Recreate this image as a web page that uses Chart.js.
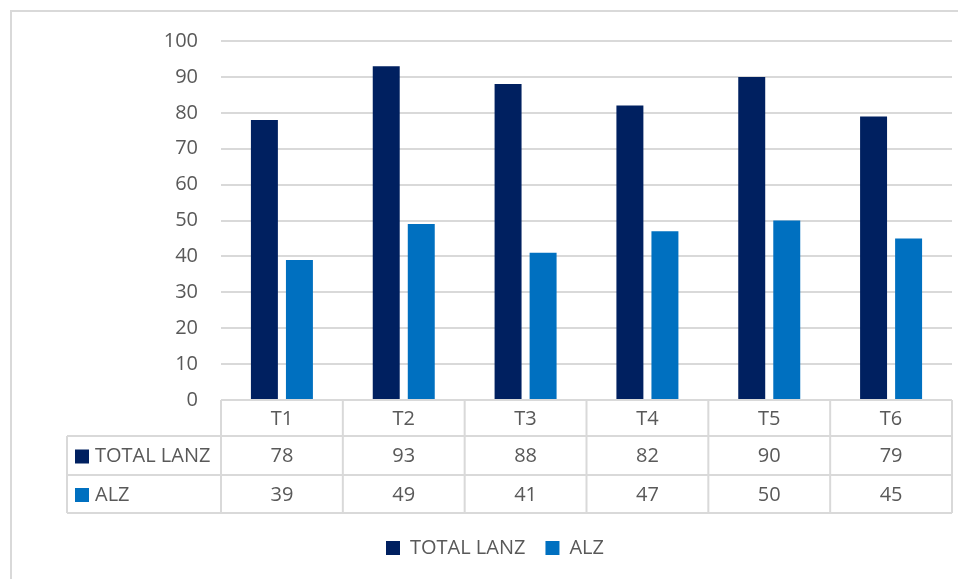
<!DOCTYPE html>
<html>
<head>
<meta charset="utf-8">
<script src="https://cdn.jsdelivr.net/npm/chart.js@4/dist/chart.umd.min.js"></script>
<style>
  html, body { margin: 0; padding: 0; background: #fff; }
  #wrap { width: 958px; height: 579px; }
</style>
</head>
<body>
<div id="wrap"><canvas id="barChart"></canvas></div>
<script>
const categories = ['T1', 'T2', 'T3', 'T4', 'T5', 'T6'];
const totalLanz = [78, 93, 88, 82, 90, 79];
const alz = [39, 49, 41, 47, 50, 45];
const yTicks = [0, 10, 20, 30, 40, 50, 60, 70, 80, 90, 100];

const textColor = '#595959';
const lineColor = '#D9D9D9';
const fontFamily = '"Open Sans", sans-serif';

// Outer frame of the chart object
const framePlugin = {
    id: 'frame',
    beforeDraw(chart) {
        const ctx = chart.ctx;
        ctx.save();
        ctx.strokeStyle = lineColor;
        ctx.lineWidth = 2;
        ctx.strokeRect(11, 11, chart.width + 20, chart.height + 20);
        ctx.restore();
    }
};

// Data table under the plot: header row of categories, one row per dataset
const dataTablePlugin = {
    id: 'dataTable',
    afterDraw(chart) {
        const ctx = chart.ctx;
        const x = chart.scales.x;
        const area = chart.chartArea;
        const top = area.bottom;
        const rowH = [36, 39, 38];
        const labelLeft = 67;
        const colW = (area.right - area.left) / categories.length;
        const y1 = top + rowH[0];
        const y2 = y1 + rowH[1];
        const y3 = y2 + rowH[2];

        ctx.save();
        ctx.strokeStyle = lineColor;
        ctx.lineWidth = 2;
        ctx.beginPath();
        // horizontal lines
        ctx.moveTo(area.left, top); ctx.lineTo(area.right, top);
        ctx.moveTo(labelLeft, y1); ctx.lineTo(area.right, y1);
        ctx.moveTo(labelLeft, y2); ctx.lineTo(area.right, y2);
        ctx.moveTo(labelLeft, y3); ctx.lineTo(area.right, y3);
        // vertical lines
        ctx.moveTo(labelLeft, y1); ctx.lineTo(labelLeft, y3);
        for (let i = 0; i <= categories.length; i++) {
            const px = area.left + i * colW;
            ctx.moveTo(px, top); ctx.lineTo(px, y3);
        }
        ctx.stroke();

        ctx.font = '20px ' + fontFamily;
        ctx.fillStyle = textColor;
        ctx.textAlign = 'center';
        ctx.textBaseline = 'middle';
        categories.forEach((c, i) => {
            const cx = x.getPixelForValue(i);
            ctx.fillText(c, cx, top + rowH[0] / 2 + 1);
        });
        chart.data.datasets.forEach((ds, d) => {
            const rowTop = d === 0 ? y1 : y2;
            const cy = rowTop + rowH[d + 1] / 2 + 1;
            ds.data.forEach((v, i) => {
                ctx.fillStyle = textColor;
                ctx.textAlign = 'center';
                ctx.fillText(String(v), x.getPixelForValue(i), cy);
            });
            ctx.fillStyle = ds.backgroundColor;
            ctx.fillRect(75, cy - 7, 14, 14);
            ctx.fillStyle = textColor;
            ctx.textAlign = 'left';
            ctx.fillText(ds.label, 95, cy);
        });
        ctx.restore();
    }
};

const ctxBar = document.getElementById('barChart').getContext('2d');
const barChart = new Chart(ctxBar, {
    type: 'bar',
    data: {
        labels: categories,
        datasets: [{
            label: 'TOTAL LANZ',
            backgroundColor: '#002060',
            data: totalLanz,
            categoryPercentage: 0.575,
            barPercentage: 0.77,
        }, {
            label: 'ALZ',
            backgroundColor: '#0070C0',
            data: alz,
            categoryPercentage: 0.575,
            barPercentage: 0.77,
        }]
    },
    options: {
        responsive: true,
        maintainAspectRatio: false,
        animation: false,
        layout: {
            padding: { left: 38, right: 6, top: 41, bottom: 11 }
        },
        plugins: {
            legend: {
                position: 'bottom',
                labels: {
                    boxWidth: 14,
                    boxHeight: 14,
                    padding: 20,
                    color: textColor,
                    font: { family: fontFamily, size: 20 }
                }
            },
            tooltip: { enabled: false }
        },
        scales: {
            x: {
                ticks: { display: false },
                grid: { display: false },
                border: { display: false },
                afterFit(scale) { scale.height = 118; }
            },
            y: {
                min: 0,
                max: 100,
                afterBuildTicks(scale) {
                    scale.ticks = yTicks.map(v => ({ value: v }));
                },
                ticks: {
                    padding: 23,
                    color: textColor,
                    font: { family: fontFamily, size: 20 }
                },
                grid: { color: lineColor, lineWidth: 2, drawTicks: false },
                border: { display: false },
                afterFit(scale) { scale.width = 183; }
            }
        }
    },
    plugins: [framePlugin, dataTablePlugin]
});
</script>
</body>
</html>
